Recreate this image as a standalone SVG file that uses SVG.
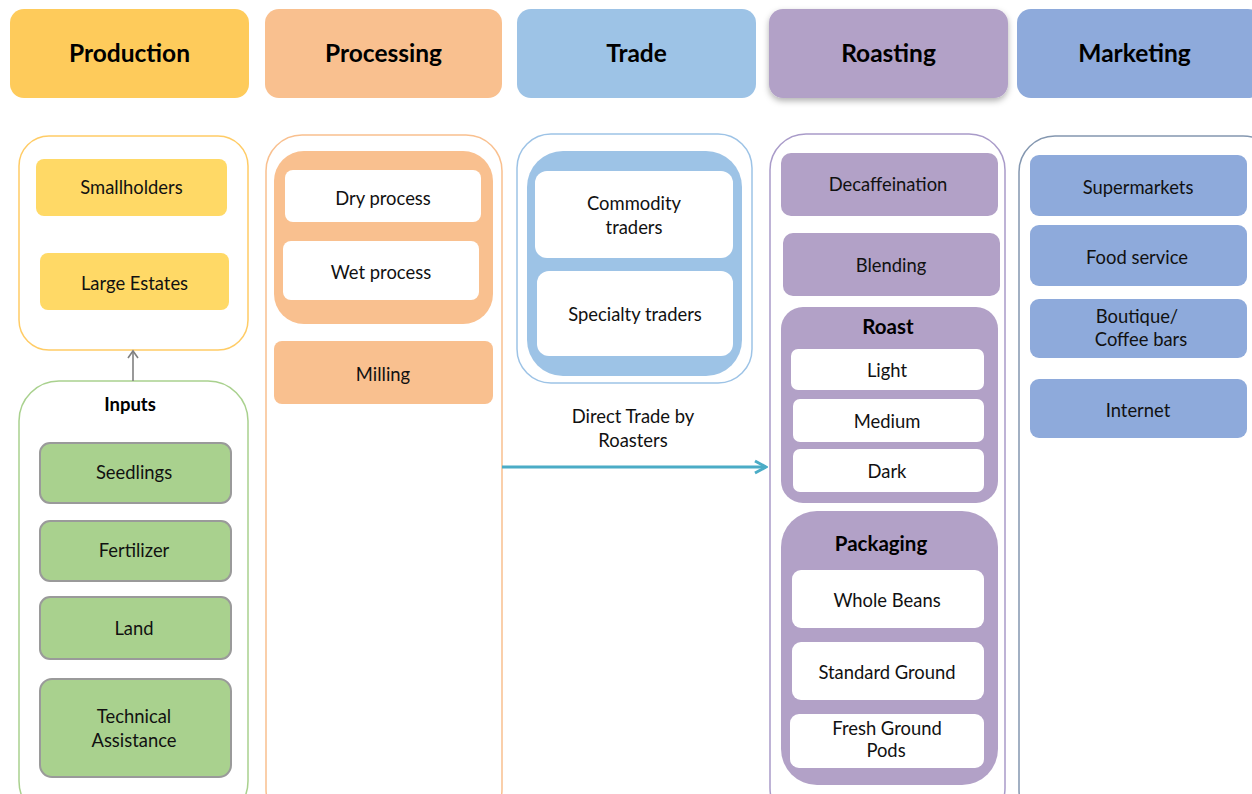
<svg xmlns="http://www.w3.org/2000/svg" width="1252" height="794" viewBox="0 0 1252 794">
<defs>
<style>
text{font-family:Lato,"Open Sans","Liberation Sans",sans-serif;fill:#111;text-anchor:middle}
.h{font-size:24.5px;font-weight:bold;fill:#000}
.t{font-size:18.4px}
.b{font-size:20.5px;font-weight:bold;fill:#000}
.cont{fill:#fff;stroke-width:1.5}
.white{fill:#fff}
.y{fill:#FFD966}
.o{fill:#F9C08F}
.bl{fill:#9DC3E6}
.p{fill:#B2A1C7}
.m{fill:#8EAADB}
.g{fill:#A9D18E;stroke:#9A9A9A;stroke-width:2}
</style>
<filter id="sh" x="-10%" y="-10%" width="120%" height="130%"><feDropShadow dx="0" dy="3" stdDeviation="3" flood-color="#000" flood-opacity="0.3"/></filter>
<marker id="ag" markerWidth="12" markerHeight="12" refX="9" refY="6" orient="auto" markerUnits="userSpaceOnUse" viewBox="0 0 12 12"><path d="M2,1 L9,6 L2,11" fill="none" stroke="#808080" stroke-width="1.6"/></marker>
<marker id="at" markerWidth="16" markerHeight="16" refX="14" refY="8" orient="auto" markerUnits="userSpaceOnUse" viewBox="0 0 16 16"><path d="M3,2 L14,8 L3,14" fill="none" stroke="#4BACC6" stroke-width="3"/></marker>
</defs>

<g id="headers">
<g id="h-production"><rect x="10" y="9" width="239" height="89" rx="14" fill="#FECB5B"/><text class="h" x="129.5" y="62">Production</text></g>
<g id="h-processing"><rect x="265" y="9" width="237" height="89" rx="14" fill="#F9C08F"/><text class="h" x="383.5" y="62">Processing</text></g>
<g id="h-trade"><rect x="517" y="9" width="239" height="89" rx="14" fill="#9DC3E6"/><text class="h" x="636.5" y="62">Trade</text></g>
<g id="h-roasting"><rect x="769" y="9" width="239" height="89" rx="14" fill="#B2A1C7" filter="url(#sh)"/><text class="h" x="888.5" y="62">Roasting</text></g>
<g id="h-marketing"><rect x="1017" y="9" width="245" height="89" rx="14" fill="#8EAADB"/><text class="h" x="1134.5" y="62">Marketing</text></g>
</g>

<g id="production">
<rect class="cont" x="19" y="136" width="229" height="214" rx="30" stroke="#FFCC66"/>
<g id="smallholders"><rect class="y" x="36" y="159" width="191" height="57" rx="8"/><text class="t" x="131.5" y="194">Smallholders</text></g>
<g id="large-estates"><rect class="y" x="40" y="253" width="189" height="57" rx="8"/><text class="t" x="134.5" y="290">Large Estates</text></g>
</g>

<g id="inputs">
<rect class="cont" x="19" y="381" width="229" height="440" rx="40" stroke="#A9D18E"/>
<text class="b" x="130" y="411" style="font-size:18.5px">Inputs</text>
<g id="seedlings"><rect class="g" x="40" y="443" width="191" height="60" rx="10"/><text class="t" x="134" y="479">Seedlings</text></g>
<g id="fertilizer"><rect class="g" x="40" y="521" width="191" height="60" rx="10"/><text class="t" x="134" y="557">Fertilizer</text></g>
<g id="land"><rect class="g" x="40" y="597" width="191" height="62" rx="10"/><text class="t" x="134" y="635">Land</text></g>
<g id="technical-assistance"><rect class="g" x="40" y="679" width="191" height="98" rx="12"/><text class="t" x="134" y="723">Technical</text><text class="t" x="134" y="747">Assistance</text></g>
</g>

<g id="processing">
<rect class="cont" x="266" y="135" width="236" height="690" rx="36" stroke="#F9C08F"/>
<rect class="o" x="274" y="151" width="219" height="173" rx="30"/>
<g id="dry-process"><rect class="white" x="285" y="170" width="196" height="52" rx="8"/><text class="t" x="383" y="205">Dry process</text></g>
<g id="wet-process"><rect class="white" x="283" y="241" width="196" height="59" rx="8"/><text class="t" x="381" y="279">Wet process</text></g>
<g id="milling"><rect class="o" x="274" y="341" width="219" height="63" rx="8"/><text class="t" x="383" y="381">Milling</text></g>
</g>

<g id="trade">
<rect class="cont" x="517" y="134" width="235" height="249" rx="34" stroke="#9DC3E6"/>
<rect class="bl" x="527" y="151" width="215" height="225" rx="36"/>
<g id="commodity-traders"><rect class="white" x="535" y="171" width="198" height="87" rx="12"/><text class="t" x="634" y="210">Commodity</text><text class="t" x="634" y="234">traders</text></g>
<g id="specialty-traders"><rect class="white" x="537" y="271" width="196" height="85" rx="12"/><text class="t" x="635" y="321">Specialty traders</text></g>
<g id="direct-trade-label"><text class="t" x="633" y="423">Direct Trade by</text><text class="t" x="633" y="447">Roasters</text></g>
</g>

<g id="roasting">
<rect class="cont" x="770" y="134" width="235" height="690" rx="36" stroke="#A99BC9"/>
<g id="decaffeination"><rect class="p" x="781" y="153" width="217" height="63" rx="10"/><text class="t" x="888" y="191">Decaffeination</text></g>
<g id="blending"><rect class="p" x="783" y="233" width="217" height="63" rx="10"/><text class="t" x="891" y="272">Blending</text></g>
<g id="roast">
<rect class="p" x="781" y="307" width="217" height="196" rx="22"/>
<text class="b" x="888" y="334">Roast</text>
<g id="light"><rect class="white" x="791" y="349" width="193" height="41" rx="7"/><text class="t" x="887" y="377">Light</text></g>
<g id="medium"><rect class="white" x="793" y="399" width="191" height="43" rx="7"/><text class="t" x="887" y="428">Medium</text></g>
<g id="dark"><rect class="white" x="793" y="449" width="191" height="43" rx="7"/><text class="t" x="887" y="478">Dark</text></g>
</g>
<g id="packaging">
<rect class="p" x="781" y="511" width="217" height="274" rx="36"/>
<text class="b" x="881" y="551">Packaging</text>
<g id="whole-beans"><rect class="white" x="792" y="570" width="192" height="58" rx="9"/><text class="t" x="887" y="607">Whole Beans</text></g>
<g id="standard-ground"><rect class="white" x="792" y="642" width="192" height="58" rx="9"/><text class="t" x="887" y="679">Standard Ground</text></g>
<g id="fresh-ground-pods"><rect class="white" x="790" y="714" width="194" height="54" rx="9"/><text class="t" x="887" y="735">Fresh Ground</text><text class="t" x="886" y="757">Pods</text></g>
</g>
</g>

<g id="marketing">
<rect class="cont" x="1019" y="136" width="260" height="690" rx="36" stroke="#8497B0"/>
<g id="supermarkets"><rect class="m" x="1030" y="155" width="217" height="61" rx="9"/><text class="t" x="1138" y="194">Supermarkets</text></g>
<g id="food-service"><rect class="m" x="1030" y="225" width="217" height="61" rx="9"/><text class="t" x="1137" y="264">Food service</text></g>
<g id="boutique"><rect class="m" x="1030" y="299" width="217" height="59" rx="9"/><text class="t" x="1137" y="323">Boutique/</text><text class="t" x="1141" y="346">Coffee bars</text></g>
<g id="internet"><rect class="m" x="1030" y="379" width="217" height="59" rx="9"/><text class="t" x="1138" y="417">Internet</text></g>
</g>

<g id="connectors">
<line x1="133" y1="381" x2="133" y2="351" stroke="#808080" stroke-width="1.6" marker-end="url(#ag)"/>
<line x1="502" y1="467" x2="766" y2="467" stroke="#4BACC6" stroke-width="3" marker-end="url(#at)"/>
</g>
</svg>
